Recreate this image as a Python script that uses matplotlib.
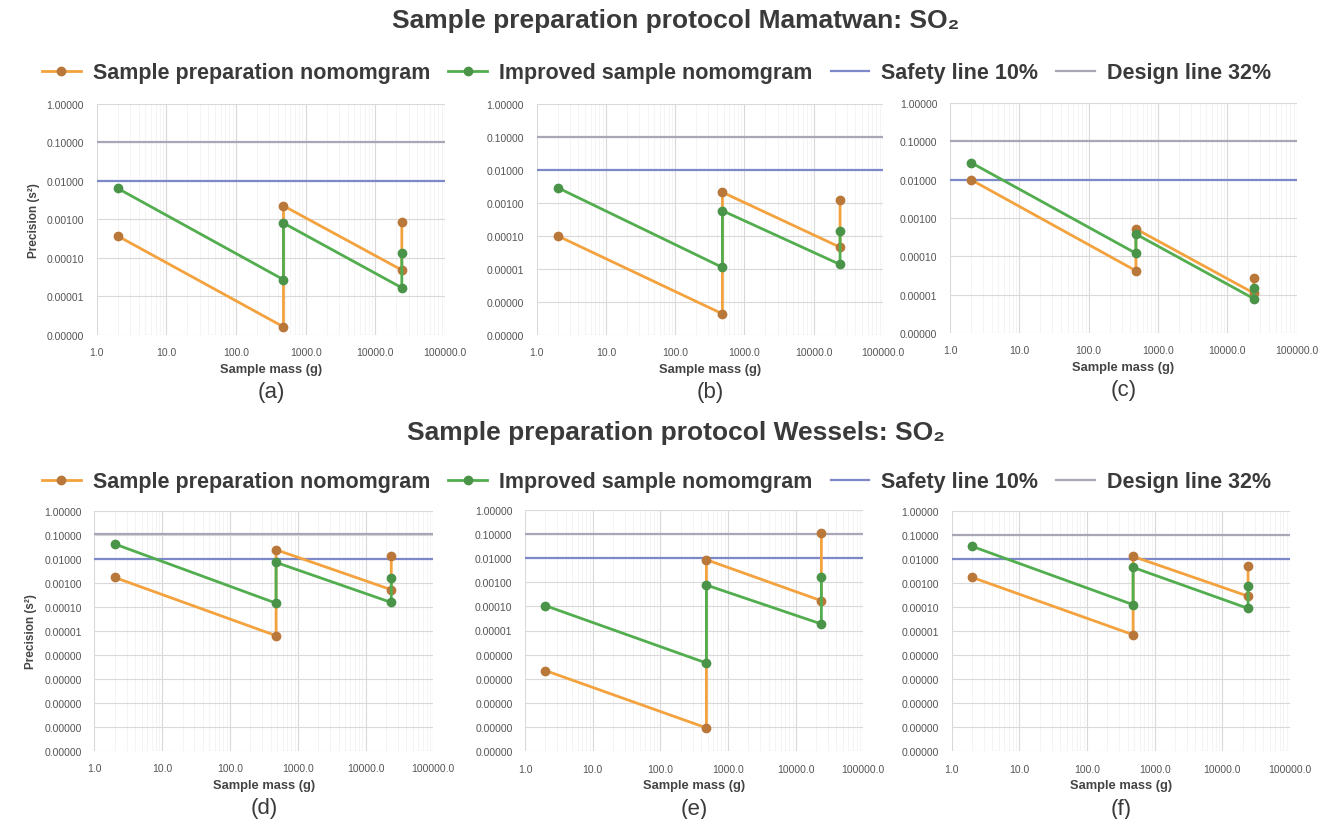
import matplotlib
matplotlib.use("Agg")
import matplotlib.pyplot as plt
from matplotlib.ticker import LogLocator, FuncFormatter, NullFormatter

# sample masses (g) at each stage: crushed, split, pulverised
mass = [2, 480, 480, 24000, 24000]

# Mamatwan protocol, precision s^2
prep_a = [3.7e-4, 1.6e-6, 2.25e-3, 4.8e-5, 8.7e-4]
impr_a = [6.4e-3, 2.7e-5, 8.0e-4, 1.66e-5, 1.3e-4]
prep_b = [1.0e-4, 4.3e-7, 2.1e-3, 4.5e-5, 1.25e-3]
impr_b = [2.9e-3, 1.1e-5, 5.8e-4, 1.35e-5, 1.4e-4]
prep_c = [1.0e-2, 4.2e-5, 5.2e-4, 1.1e-5, 2.8e-5]
impr_c = [2.8e-2, 1.2e-4, 3.8e-4, 7.9e-6, 1.5e-5]

# Wessels protocol
prep_d = [1.66e-3, 6.2e-6, 2.36e-2, 5.1e-4, 1.33e-2]
impr_d = [4.1e-2, 1.4e-4, 7.0e-3, 1.5e-4, 1.56e-3]
prep_e = [2.2e-7, 9.3e-10, 8.5e-3, 1.7e-4, 1.05e-1]
impr_e = [1.07e-4, 4.5e-7, 7.6e-4, 1.86e-5, 1.6e-3]
prep_f = [1.7e-3, 7.0e-6, 1.26e-2, 2.8e-4, 5.2e-3]
impr_f = [3.3e-2, 1.24e-4, 4.4e-3, 8.7e-5, 7.2e-4]

safety = 0.10 ** 2
design = 0.32 ** 2

labels = ["Sample preparation nomomgram", "Improved sample nomomgram",
          "Safety line 10%", "Design line 32%"]
titles = ["Sample preparation protocol Mamatwan: SO\u2082",
          "Sample preparation protocol Wessels: SO\u2082"]

plt.rcParams["font.family"] = ["Liberation Sans", "DejaVu Sans"]
plt.rcParams["text.color"] = "#3a3a3a"

W, H = 1332, 820
fig = plt.figure(figsize=(W / 100, H / 100), dpi=100)


def px_axes(x0, x1, ytop, ybot):
    return fig.add_axes([x0 / W, 1 - ybot / H, (x1 - x0) / W, (ybot - ytop) / H])


def panel(ax, prep, impr, ymin, letter, ylabel=False):
    ax.set_xscale("log")
    ax.set_yscale("log")
    ax.set_xlim(1, 1e5)
    ax.set_ylim(ymin, 1)
    d_line = ax.axhline(design, color="#a7a7b7", lw=1.6, zorder=2)
    s_line = ax.axhline(safety, color="#7c88c8", lw=1.6, zorder=2)
    l1, = ax.plot(mass, prep, color="#f3a23e", lw=2.0, marker="o", ms=6,
                  mfc="#b9773a", mec="#b9773a", zorder=3)
    l2, = ax.plot(mass, impr, color="#52ad4f", lw=2.0, marker="o", ms=6,
                  mfc="#4a944a", mec="#4a944a", zorder=4)

    ax.xaxis.set_major_locator(LogLocator(base=10, numticks=10))
    ax.xaxis.set_minor_locator(LogLocator(base=10, subs=range(2, 10), numticks=10))
    ax.xaxis.set_minor_formatter(NullFormatter())
    ax.xaxis.set_major_formatter(FuncFormatter(lambda v, p: f"{v:.1f}"))
    ax.yaxis.set_major_locator(LogLocator(base=10, numticks=15))
    ax.yaxis.set_minor_locator(LogLocator(base=10, subs=[], numticks=15))
    ax.yaxis.set_major_formatter(FuncFormatter(lambda v, p: f"{v:.5f}"))

    ax.grid(True, which="major", color="#d9d9d9", lw=0.8)
    ax.grid(True, which="minor", axis="x", color="#f3f3f3", lw=0.6)
    ax.set_axisbelow(True)
    for s in ax.spines.values():
        s.set_visible(False)
    ax.tick_params(which="both", length=0, labelsize=7.5, colors="#555555")
    ax.tick_params(axis="x", pad=9)
    ax.tick_params(axis="y", pad=9)

    ax.set_xlabel("Sample mass (g)", fontsize=9.3, fontweight="bold",
                  color="#444444", labelpad=4)
    if ylabel:
        ax.set_ylabel("Precision (s\u00b2)", fontsize=8.5, fontweight="bold",
                      color="#444444", labelpad=5)
    ax.annotate(letter, xy=(0.5, 0), xycoords="axes fraction", xytext=(0, -41),
                textcoords="offset points", ha="center", va="center", fontsize=16)
    return [l1, l2, s_line, d_line]


ax_a = px_axes(96.7, 445, 105, 335.7)
ax_b = px_axes(536.7, 883, 105, 335.7)
ax_c = px_axes(950, 1296.7, 104, 334)
ax_d = px_axes(94.3, 433.3, 511.7, 751.7)
ax_e = px_axes(525, 863.3, 510.7, 752.3)
ax_f = px_axes(951.7, 1290, 511.7, 752.3)

handles = panel(ax_a, prep_a, impr_a, 1e-6, "(a)", ylabel=True)
panel(ax_b, prep_b, impr_b, 1e-7, "(b)")
panel(ax_c, prep_c, impr_c, 1e-6, "(c)")
panel(ax_d, prep_d, impr_d, 1e-10, "(d)", ylabel=True)
panel(ax_e, prep_e, impr_e, 1e-10, "(e)")
panel(ax_f, prep_f, impr_f, 1e-10, "(f)")

for title, ty, ly in [(titles[0], 21, 74), (titles[1], 433, 483)]:
    fig.text(676 / W, 1 - ty / H, title, ha="center", va="center",
             fontsize=19, fontweight="bold", color="#3a3a3a")
    fig.legend(handles, labels, loc="center left", bbox_to_anchor=(42 / W, 1 - ly / H),
               ncol=4, frameon=False, handlelength=1.8,
               handletextpad=0.55, columnspacing=0.85, borderpad=0, borderaxespad=0,
               prop={"weight": "bold", "size": 15.5})

fig.savefig("out.png", dpi=100)
